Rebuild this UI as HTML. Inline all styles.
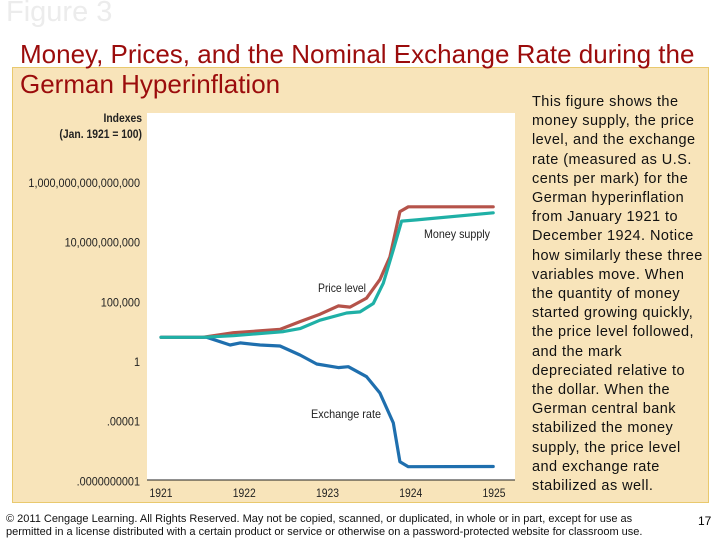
<!DOCTYPE html>
<html><head><meta charset="utf-8"><style>
body{margin:0;width:720px;height:540px;background:#fff;position:relative;overflow:hidden;font-family:"Liberation Sans",Arial,sans-serif}
.abs{position:absolute}
#fig{left:6px;top:-4px;font-size:29px;color:#ececec}
#panel{left:12px;top:67px;width:695px;height:434px;background:#f8e4ba;border:1px solid #e9c96e}
#title{left:20px;top:39px;font-size:26px;line-height:30px;color:#9b0c0c;white-space:nowrap}
#desc{left:532px;top:93px;font-size:14.5px;line-height:19.2px;color:#111;white-space:nowrap;letter-spacing:0.45px}
#foot{left:6px;top:513px;font-size:11px;line-height:13px;color:#111;white-space:nowrap}
#pg{left:698px;top:514px;font-size:12px}
svg{position:absolute;left:0;top:0}
</style></head><body>
<div id="fig" class="abs">Figure 3</div>
<div id="panel" class="abs"></div>
<div id="title" class="abs">Money, Prices, and the Nominal Exchange Rate during the<br>German Hyperinflation</div>
<div id="desc" class="abs">This figure shows the<br>money supply, the price<br>level, and the exchange<br>rate (measured as U.S.<br>cents per mark) for the<br>German hyperinflation<br>from January 1921 to<br>December 1924. Notice<br>how similarly these three<br>variables move. When<br>the quantity of money<br>started growing quickly,<br>the price level followed,<br>and the mark<br>depreciated relative to<br>the dollar. When the<br>German central bank<br>stabilized the money<br>supply, the price level<br>and exchange rate<br>stabilized as well.</div>
<div id="foot" class="abs">© 2011 Cengage Learning. All Rights Reserved. May not be copied, scanned, or duplicated, in whole or in part, except for use as<br>permitted in a license distributed with a certain product or service or otherwise on a password-protected website for classroom use.</div>
<div id="pg" class="abs">17</div>
<svg id="chart" width="720" height="540"></svg>
<script>
const yearTicks=[1921,1922,1923,1924,1925];
const logTicks=[15,10,5,0,-5,-10];
const tickLabels=["1,000,000,000,000,000","10,000,000,000","100,000","1",".00001",".0000000001"];
const priceYears=[1921.0,1921.5,1921.87,1922.43,1922.67,1922.91,1923.13,1923.27,1923.47,1923.63,1923.75,1923.87,1923.97,1924.99];
const priceLog=[2.07,2.07,2.45,2.73,3.38,4.0,4.7,4.6,5.35,6.9,8.8,12.6,13.0,13.0];
const moneyYears=[1921.0,1921.5,1921.87,1922.47,1922.67,1922.91,1923.23,1923.39,1923.55,1923.67,1923.79,1923.89,1924.07,1924.99];
const moneyLog=[2.07,2.07,2.2,2.55,2.8,3.5,4.1,4.2,4.9,6.6,9.4,11.8,11.9,12.5];
const exchYears=[1921.0,1921.55,1921.83,1921.95,1922.19,1922.43,1922.67,1922.87,1923.13,1923.25,1923.47,1923.63,1923.79,1923.87,1923.97,1924.99];
const exchLog=[2.07,2.07,1.42,1.6,1.42,1.34,0.59,-0.17,-0.47,-0.39,-1.23,-2.6,-5.1,-8.35,-8.77,-8.75];

const svg=document.getElementById('chart');
const NS='http://www.w3.org/2000/svg';
const X=y=>161+(y-1921)*83.25;
const Y=l=>362-l*11.94;
function mk(tag,attrs){const e=document.createElementNS(NS,tag);for(const k in attrs)e.setAttribute(k,attrs[k]);svg.appendChild(e);return e;}
const F='"Liberation Sans",Arial,sans-serif';
let r=mk('rect',{x:147,y:113,width:368,height:367,fill:'#fff'});


let ax=mk('line',{x1:147,y1:480,x2:515,y2:480,stroke:'#222','stroke-width':1});


yearTicks.forEach(yr=>{const t=mk('text',{x:X(yr),y:497,'text-anchor':'middle','font-size':12,'font-family':F,fill:'#222',textLength:23,lengthAdjust:'spacingAndGlyphs'});t.textContent=yr;

});
logTicks.forEach((l,i)=>{const t=mk('text',{x:140,y:Y(l)+4,'text-anchor':'end','font-size':11.8,'font-family':F,fill:'#222','transform':'translate(140,0) scale(0.92,1) translate(-140,0)'});t.textContent=tickLabels[i];

});
[['Indexes',122],['(Jan. 1921 = 100)',138]].forEach(([s,y])=>{const t=mk('text',{x:142,y:y,'text-anchor':'end','font-size':11.5,'font-weight':'bold','font-family':F,fill:'#222','transform':'translate(142,0) scale(0.9,1) translate(-142,0)'});t.textContent=s;

});
function line(xs,ls,col,name){const d=xs.map((x,i)=>(i?'L':'M')+X(x).toFixed(1)+','+Y(ls[i]).toFixed(1)).join('');
const p=mk('path',{d:d,fill:'none',stroke:col,'stroke-width':3.2,'stroke-linejoin':'round','stroke-linecap':'round'});

}
line(exchYears,exchLog,'#1f6fae','exchange-rate-line');
line(priceYears,priceLog,'#b5534a','price-level-line');
line(moneyYears,moneyLog,'#1fb0a6','money-supply-line');
[['Money supply',424,238,66],['Price level',318,292,48],['Exchange rate',311,418,70]].forEach(([s,x,y,w])=>{const t=mk('text',{x:x,y:y,'font-size':12,'font-family':F,fill:'#222',textLength:w,lengthAdjust:'spacingAndGlyphs'});t.textContent=s;

});
</script>
</body></html>
